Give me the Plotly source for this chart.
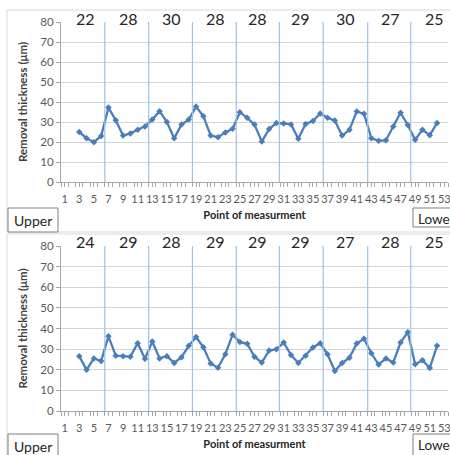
import plotly.graph_objects as go

points = list(range(3, 53))
upper_values = [25.0, 21.9, 19.9, 23.0, 37.2, 30.9, 23.2, 24.3, 26.1, 27.8, 31.2, 35.4, 30.0, 21.9, 28.7, 31.2,
                37.7, 32.9, 23.2, 22.4, 24.8, 26.6, 34.9, 32.1, 28.7, 20.2, 26.5, 29.5, 29.3, 28.8, 21.6, 29.0,
                30.5, 34.3, 32.1, 30.7, 23.2, 26.1, 35.3, 34.1, 21.9, 20.6, 20.9, 27.8, 34.6, 28.5, 21.1, 26.1,
                23.4, 29.5]
lower_values = [26.6, 20.0, 25.5, 24.2, 36.2, 26.8, 26.6, 26.3, 32.9, 25.3, 33.7, 25.5, 26.6, 23.3, 26.1, 31.6,
                35.9, 30.9, 23.0, 21.0, 27.5, 37.0, 33.4, 32.6, 26.3, 23.5, 29.3, 30.0, 33.2, 27.1, 23.3, 26.8,
                30.8, 32.9, 27.5, 19.4, 23.3, 25.8, 32.7, 35.0, 28.0, 22.5, 25.5, 23.5, 33.2, 38.2, 22.7, 24.6,
                20.8, 31.6]
section_bounds = [6.5, 12.5, 18.5, 24.5, 30.4, 36.4, 42.5, 48.4]
section_centers = [3.8, 9.7, 15.6, 21.6, 27.4, 33.3, 39.4, 45.6, 51.6]
upper_labels = ["22", "28", "30", "28", "28", "29", "30", "27", "25"]
lower_labels = ["24", "29", "28", "29", "29", "29", "27", "28", "25"]
x_ticks = list(range(1, 54, 2))
y_ticks = list(range(0, 81, 10))

W, H = 450, 455
FONT = "Lato"
LINE = "#4A7EBB"

fig = go.Figure()

def px_x(v):
    return v / W

def px_y(v):
    return 1 - v / H

panels = [
    dict(vals=upper_values, labels=upper_labels, top=22, bottom=182, frame=(10, 232), box=208, lbox=(208, 227), ax=""),
    dict(vals=lower_values, labels=lower_labels, top=246, bottom=411, frame=(234, 470), box=434, lbox=(434, 470), ax="2"),
]

shapes = []
annotations = []
for p in panels:
    ax = p["ax"]
    fig.add_trace(go.Scatter(
        x=points, y=p["vals"], mode="lines+markers",
        line=dict(color=LINE, width=2.3),
        marker=dict(symbol="diamond", size=5, color=LINE),
        xaxis="x" + ax, yaxis="y" + ax, showlegend=False, hoverinfo="skip",
    ))
    layout_x = dict(
        domain=[px_x(61), px_x(448)], range=[0.5, 53.5], anchor="y" + ax, automargin=False,
        tickmode="array", tickvals=x_ticks, tickangle=0, ticks="outside", ticklen=4, tickcolor="#A6A6A6",
        ticklabelstandoff=3, ticklabeloverflow="allow",
        minor=dict(ticks="outside", tickvals=[i + 0.5 for i in range(0, 54)], ticklen=4, tickcolor="#A6A6A6"),
        showgrid=False, zeroline=False, showline=True, linecolor="#A6A6A6", linewidth=1,
        tickfont=dict(family=FONT, size=11, color="#595959"),
        title=dict(text="<b>Point of measurment</b>", font=dict(family=FONT, size=11, color="#262626"), standoff=7),
    )
    layout_y = dict(
        domain=[px_y(p["bottom"]), px_y(p["top"])], range=[0, 80], anchor="x" + ax, automargin=False,
        tickmode="array", tickvals=y_ticks, ticks="outside", ticklen=4, tickcolor="#A6A6A6",
        showgrid=True, gridcolor="#D4D4D4", gridwidth=1.3, zeroline=False,
        showline=True, linecolor="#A6A6A6", linewidth=1,
        tickfont=dict(family=FONT, size=11.5, color="#595959"),
        title=dict(text="<b>Removal thickness (μm)</b>", font=dict(family=FONT, size=11.5, color="#404040"), standoff=10),
    )
    if ax == "":
        fig.update_layout(xaxis=layout_x, yaxis=layout_y)
    else:
        fig.update_layout(xaxis2=layout_x, yaxis2=layout_y)

    for b in section_bounds:
        shapes.append(dict(type="line", xref="x" + ax, yref="y" + ax + " domain", x0=b, x1=b, y0=0, y1=1,
                           line=dict(color="#9DC3E6", width=1.2)))
    for c, t in zip(section_centers, p["labels"]):
        annotations.append(dict(x=c, y=1.025, xref="x" + ax, yref="y" + ax + " domain", text=t, showarrow=False,
                                xanchor="center", yanchor="middle",
                                font=dict(family=FONT, size=16, color="#262626")))
    # chart frame
    shapes.append(dict(type="rect", xref="paper", yref="paper", x0=px_x(7), x1=px_x(470),
                       y0=px_y(p["frame"][1]), y1=px_y(p["frame"][0]), line=dict(color="#D9D9D9", width=1)))
    # Upper box
    shapes.append(dict(type="rect", xref="paper", yref="paper", x0=px_x(8), x1=px_x(58),
                       y0=px_y(p["box"] + 24), y1=px_y(p["box"]), line=dict(color="#7F7F7F", width=1),
                       fillcolor="white"))
    annotations.append(dict(x=px_x(33), y=px_y(p["box"] + 12), xref="paper", yref="paper", text="Upper",
                            xanchor="center", yanchor="middle",
                            showarrow=False, font=dict(family=FONT, size=14, color="#262626")))
    # Lower box (cut off at the right edge in the source)
    shapes.append(dict(type="rect", xref="paper", yref="paper", x0=px_x(413), x1=px_x(480),
                       y0=px_y(p["lbox"][1]), y1=px_y(p["lbox"][0]), line=dict(color="#7F7F7F", width=1),
                       fillcolor="white"))
    annotations.append(dict(x=px_x(416), y=px_y(p["lbox"][0] + 11), xref="paper", yref="paper", text="Lowe",
                            xanchor="left", yanchor="middle",
                            showarrow=False, font=dict(family=FONT, size=13.5, color="#262626")))

fig.update_layout(
    width=W, height=H, margin=dict(l=0, r=0, t=0, b=0),
    paper_bgcolor="white", plot_bgcolor="white",
    shapes=shapes, annotations=annotations,
)

fig.write_html("out.html", config={"displayModeBar": False},
               post_script="document.body.style.margin='0';document.body.style.overflow='hidden';")
